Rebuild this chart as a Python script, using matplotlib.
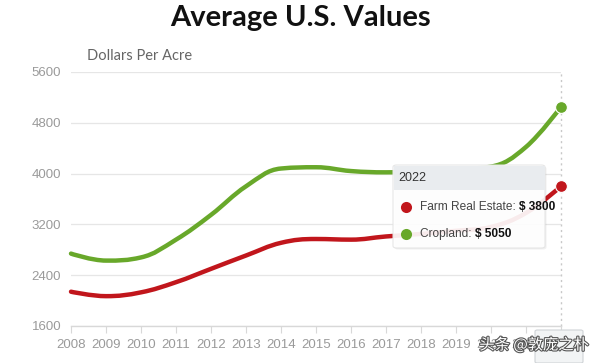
import matplotlib
matplotlib.use('Agg')
import matplotlib.pyplot as plt
from matplotlib.path import Path
from matplotlib.patches import PathPatch, FancyBboxPatch, Rectangle
from matplotlib.lines import Line2D
import matplotlib.patheffects as pe

# ---------------- data ----------------
years = list(range(2008, 2023))
farm_real_estate = [2140, 2070, 2130, 2290, 2500, 2710, 2910, 2970, 2960, 3010,
                    3050, 3100, 3160, 3380, 3800]
cropland = [2740, 2630, 2680, 2960, 3350, 3800, 4080, 4100, 4040, 4020,
            4040, 4070, 4110, 4420, 5050]
y_ticks = [1600, 2400, 3200, 4000, 4800, 5600]
title = "Average U.S. Values"
y_label = "Dollars Per Acre"
series_names = ["Farm Real Estate", "Cropland"]
tooltip_year = "2022"
watermark = "头条 @敦庞之朴"

RED = "#c1161c"
GREEN = "#68a82a"
W, H = 600, 363


def fx(x):
    return x / W


def fy(y):
    return 1 - y / H


def spline_path(xs, ys):
    """Highcharts-like smooth spline as cubic Bezier path in data space."""
    n = len(xs)
    sm, den = 1.5, 2.5
    left = [None] * n
    right = [None] * n
    for i in range(n):
        x, y = xs[i], ys[i]
        if i == 0 or i == n - 1:
            left[i] = (x, y)
            right[i] = (x, y)
            continue
        lx, ly = xs[i - 1], ys[i - 1]
        nx, ny = xs[i + 1], ys[i + 1]
        lcx = (sm * x + lx) / den
        lcy = (sm * y + ly) / den
        rcx = (sm * x + nx) / den
        rcy = (sm * y + ny) / den
        if rcx != lcx:
            corr = ((rcy - lcy) * (rcx - x)) / (rcx - lcx) + y - rcy
            lcy += corr
            rcy += corr
        if lcy > ly and lcy > y:
            lcy = max(ly, y)
            rcy = 2 * y - lcy
        elif lcy < ly and lcy < y:
            lcy = min(ly, y)
            rcy = 2 * y - lcy
        if rcy > ny and rcy > y:
            rcy = max(ny, y)
            lcy = 2 * y - rcy
        elif rcy < ny and rcy < y:
            rcy = min(ny, y)
            lcy = 2 * y - rcy
        left[i] = (lcx, lcy)
        right[i] = (rcx, rcy)
    verts = [(xs[0], ys[0])]
    codes = [Path.MOVETO]
    for i in range(1, n):
        verts += [right[i - 1], left[i], (xs[i], ys[i])]
        codes += [Path.CURVE4] * 3
    return Path(verts, codes)


fig = plt.figure(figsize=(6, 3.63), dpi=100)
ax = fig.add_axes([fx(71), fy(326), 490 / W, 254 / H])
ax.set_xlim(2008, 2022)
ax.set_ylim(1600, 5600)

for s in ["top", "right", "left"]:
    ax.spines[s].set_visible(False)
ax.spines["bottom"].set_color("#d8d8d8")
ax.spines["bottom"].set_linewidth(1.0)

ax.set_yticks(y_ticks)
ax.set_xticks(years)
ax.set_xticklabels([str(y) for y in years])
ax.tick_params(axis="y", length=0, pad=7, labelsize=9.5, labelcolor="#9a9a9a")
ax.tick_params(axis="x", length=5, width=0.8, color="#d8d8d8", pad=4,
               labelsize=9.5, labelcolor="#9a9a9a")
for lab in ax.get_xticklabels() + ax.get_yticklabels():
    lab.set_family("Liberation Sans")
ax.grid(axis="y", color="#e6e6e6", linewidth=0.9)
ax.set_axisbelow(True)

# crosshair at last year
ax.axvline(years[-1], color="#c8c8c8", linewidth=1.0, linestyle=(0, (1.5, 2.5)),
           clip_on=False, zorder=1)

for vals, col in [(farm_real_estate, RED), (cropland, GREEN)]:
    p = spline_path(years, vals)
    ax.add_patch(PathPatch(p, facecolor="none", edgecolor=col, linewidth=3.2,
                           capstyle="round", joinstyle="round", clip_on=False,
                           zorder=3))
    ax.plot([years[-1]], [vals[-1]], "o", color=col, markersize=8.5,
            markeredgecolor="white", markeredgewidth=0.8, clip_on=False, zorder=4)

# titles
fig.text(0.5, fy(18), title, ha="center", va="center", fontsize=21,
         fontweight="bold", family="Lato", color="#111111")
fig.text(fx(87), fy(56), y_label, ha="left", va="center", fontsize=10.5,
         family="Lato", color="#666666")

# tooltip
tx0, ty0, tx1, ty1 = 393, 165, 545, 248
shadow = FancyBboxPatch((fx(tx0 + 1.5), fy(ty1 + 1.5)), fx(tx1 - tx0), (ty1 - ty0) / H,
                        boxstyle="round,pad=0,rounding_size=0.006",
                        transform=fig.transFigure, facecolor="#000000", alpha=0.06,
                        edgecolor="none", zorder=9)
fig.patches.append(shadow)
box = FancyBboxPatch((fx(tx0), fy(ty1)), fx(tx1 - tx0), (ty1 - ty0) / H,
                     boxstyle="round,pad=0,rounding_size=0.006",
                     transform=fig.transFigure, facecolor="white", alpha=0.92,
                     edgecolor="#e4e4e4", linewidth=0.8, zorder=10)
fig.patches.append(box)
header = Rectangle((fx(tx0 + 0.5), fy(190)), fx(tx1 - tx0 - 1), (190 - ty0 - 0.5) / H,
                   transform=fig.transFigure, facecolor="#e9ecef", edgecolor="none",
                   zorder=11)
fig.patches.append(header)
fig.text(fx(398), fy(178), tooltip_year, ha="left", va="center", fontsize=9,
         family="Liberation Sans", color="#333333", zorder=12)

rows = [(207, RED, series_names[0], farm_real_estate[-1]),
        (234, GREEN, series_names[1], cropland[-1])]
for yy, col, name, val in rows:
    fig.add_artist(Line2D([fx(406)], [fy(yy)], marker="o", markersize=8,
                          color=col, markeredgecolor="none", linestyle="none",
                          transform=fig.transFigure, zorder=12))
    t = fig.text(fx(420), fy(yy), f"{name}: ", ha="left", va="center", fontsize=8.6,
                 family="Liberation Sans", color="#444444", zorder=12)
    fig.canvas.draw()
    bb = t.get_window_extent()
    fig.text(bb.x1 / W, fy(yy), f"$ {val}", ha="left", va="center", fontsize=8.6,
             family="Liberation Sans", fontweight="bold", color="#111111", zorder=12)

# crosshair label box at bottom
lab = FancyBboxPatch((fx(535), fy(363)), fx(48), 33 / H,
                     boxstyle="round,pad=0,rounding_size=0.004",
                     transform=fig.transFigure, facecolor="#f2f4f5",
                     edgecolor="#cfd3d6", linewidth=0.8, zorder=10)
fig.patches.append(lab)

# watermark
fig.text(fx(534), fy(345), watermark, ha="center", va="center", fontsize=11,
         family=["Noto Sans CJK SC", "DejaVu Sans"], color="white", zorder=20,
         path_effects=[pe.withStroke(linewidth=1.6, foreground="#555555")])

fig.savefig("out.png", dpi=100)
